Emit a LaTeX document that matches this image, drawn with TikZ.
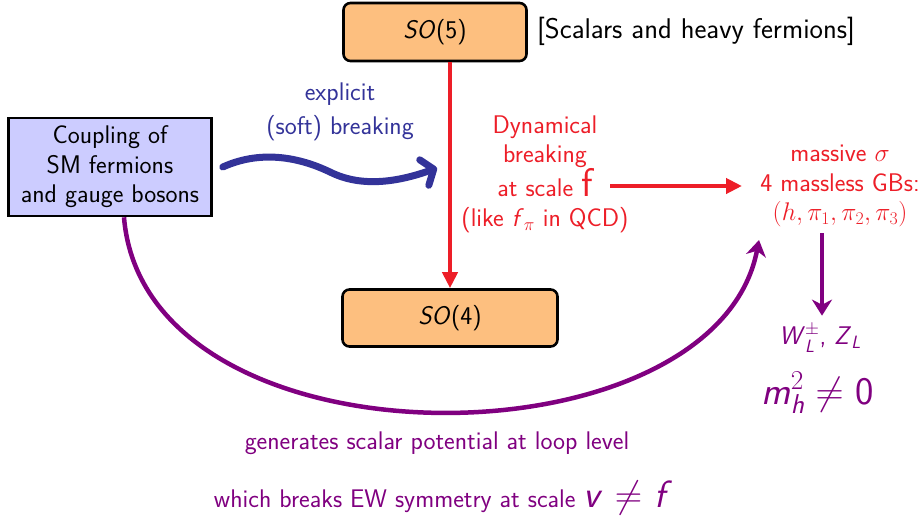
\RequirePackage{fix-cm}
\documentclass[tikz,border=0pt]{standalone}
\usepackage{amsmath}
\usepackage{tikz}
\usetikzlibrary{arrows.meta}
\definecolor{myred}{RGB}{237,30,40}
\definecolor{mypurple}{RGB}{128,0,128}
\definecolor{myblue}{RGB}{51,51,153}
\definecolor{myorange}{RGB}{253,191,127}
\definecolor{mylav}{RGB}{204,204,255}
\newcommand{\mysi}[1]{\textsf{\itshape #1}}
\begin{document}
\begin{tikzpicture}[x=1pt,y=-1pt,
  font=\sffamily\fontsize{25.5}{29.5}\selectfont,
  sobox/.style={draw=black,line width=2.6pt,fill=myorange,rounded corners=7pt,inner sep=0pt},
  bluebox/.style={draw=black,line width=2.6pt,fill=mylav,align=center,inner sep=0pt},
  txt/.style={align=center,inner sep=2pt},
  redarrow/.style={draw=myred,line width=4pt,-{Triangle[length=16pt,width=15pt]}},
  purparrow/.style={draw=mypurple,line width=4.5pt,-{Stealth[length=16pt,width=20pt,inset=5pt]}}]
\useasboundingbox (0,0) rectangle (920,522);
\node[sobox,minimum width=183pt,minimum height=58pt] (so5) at (435,32) {\mysi{SO}(5)};
\node[txt,anchor=west,font=\sffamily\fontsize{28.5}{30}\selectfont] (scal) at (535,31) {[Scalars and heavy fermions]};
\node[sobox,minimum width=215pt,minimum height=57pt] (so4) at (450,318) {\mysi{SO}(4)};
\node[bluebox,minimum width=203pt,minimum height=98pt] (cpl) at (110,167) {Coupling of\\SM fermions\\and gauge bosons};
\node[txt,text=myblue] (expl) at (340,112) {explicit\\[5pt](soft) breaking};
\node[txt,text=myred] (dyn) at (545,174) {Dynamical\\breaking\\at scale {\fontsize{40}{29.5}\selectfont f}\\(like \mysi{f}$_\pi$ in QCD)};
\node[txt,text=myred] (gb) at (840,186) {massive $\sigma$\\4 massless GBs:\\$(h,\pi_1,\pi_2,\pi_3)$};
\node[txt,text=mypurple] (wz) at (820,338) {\mysi{W}$^{\pm}_{\mysi{L}}$, \mysi{Z}$_{\mysi{L}}$};
\node[txt,text=mypurple,font=\sffamily\fontsize{39}{40}\selectfont] (mh) at (818,393) {\mysi{m}$^{2}_{\mysi{h}}\neq$ 0};
\node[txt,text=mypurple] (gen) at (437,443) {generates scalar potential at loop level};
\node[txt,text=mypurple] (ew) at (443,498) {which breaks EW symmetry at scale {\fontsize{38}{34}\selectfont\mysi{v} $\neq$ \mysi{f}}};
\coordinate (wtip) at (437,168);
\coordinate (ctip) at (759,240);
\coordinate (rs) at (610,186);
\coordinate (re) at (742,186);
% red arrows
\draw[redarrow] (so4.north |- so5.south) -- (so4.north);
\draw[redarrow] (rs) -- (re);
% wavy arrow
\draw[myblue,line width=7pt,line cap=round,-{Straight Barb[length=10pt,width=27pt,line cap=round,line join=round]}] ([xshift=10pt]cpl.east) .. controls (265,148) and (305,160) .. (330,172) .. controls (360,187) and (395,183) .. (wtip);
% purple
\draw[purparrow,shorten <=4pt,shorten >=6pt] ([xshift=-18pt]gb.south) -- (wz.north -| 822,0);
\draw[purparrow] ([xshift=14pt]cpl.south) .. controls (145,475) and (715,470) .. (ctip);
\end{tikzpicture}
\end{document}
